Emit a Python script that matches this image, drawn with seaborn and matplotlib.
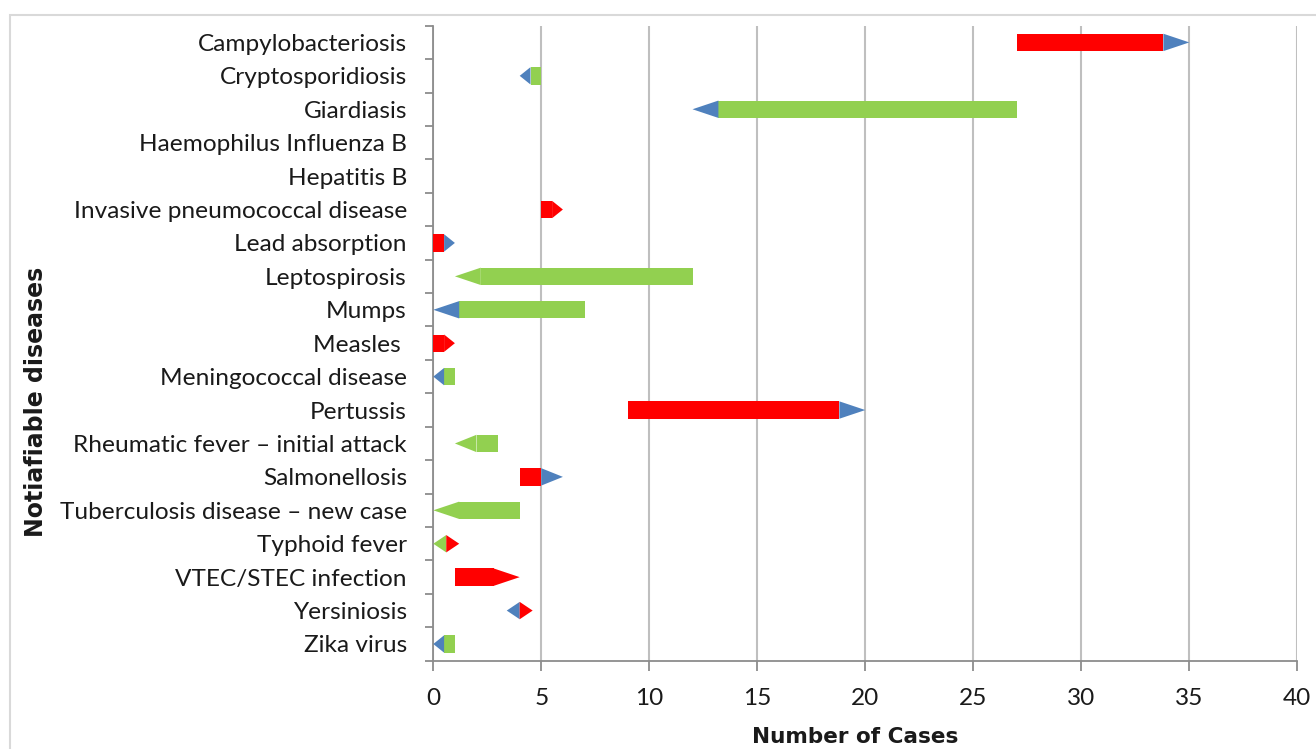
import numpy as np
import pandas as pd
import seaborn as sns
import matplotlib.pyplot as plt
from matplotlib.patches import Polygon, Rectangle

# %%
# valores (casos: anterior -> atual)
diseases = ['Campylobacteriosis', 'Cryptosporidiosis', 'Giardiasis',
            'Haemophilus Influenza B', 'Hepatitis B', 'Invasive pneumococcal disease',
            'Lead absorption', 'Leptospirosis', 'Mumps', 'Measles ',
            'Meningococcal disease', 'Pertussis', 'Rheumatic fever \u2013 initial attack',
            'Salmonellosis', 'Tuberculosis disease \u2013 new case', 'Typhoid fever',
            'VTEC/STEC infection', 'Yersiniosis', 'Zika virus']
prev_cases = [27, 5, 27, 0, 0, 5, 0, 12, 7, 0, 1, 9, 3, 4, 4, 0.6, 1, 4, 1]
curr_cases = [35, 4, 12, 0, 0, 6, 1, 1, 0, 1, 0, 20, 1, 6, 0, 0.6, 4, 4, 0]
tip_colour = ['blue', 'blue', 'blue', None, None, 'red', 'blue', 'green', 'blue', 'red',
              'blue', 'blue', 'green', 'blue', 'green', ('green', 'red'), 'red',
              ('blue', 'red'), 'blue']
x_ticks = [0, 5, 10, 15, 20, 25, 30, 35, 40]

colours = {'red': '#FF0000', 'green': '#92D050', 'blue': '#4F81BD'}
bar_h = 0.52
tip_max = 1.2

# %%
df = pd.DataFrame({'disease': diseases, 'prev': prev_cases, 'curr': curr_cases})
df['sign'] = np.sign(df['curr'] - df['prev'])
df['tip'] = np.minimum(tip_max, (df['curr'] - df['prev']).abs() / 2)
df['body_end'] = df['curr'] - df['sign'] * df['tip']
df['width'] = df['body_end'] - df['prev']
df['body_colour'] = np.where(df['sign'] > 0, colours['red'], colours['green'])

sns.set_theme(style='white')
plt.rcParams['font.family'] = ['Lato', 'DejaVu Sans']

fig = plt.figure(figsize=(13.16, 7.49), dpi=100)
ax = fig.add_axes([433.3 / 1316, 1 - 660.7 / 749, (1297.3 - 433.3) / 1316, (660.7 - 25.7) / 749])

sns.barplot(data=df, x='width', y='disease', left=df['prev'].values, width=bar_h,
            color=colours['green'], saturation=1, orient='h', ax=ax, zorder=3)
for patch, c in zip(ax.patches, df['body_colour']):
    patch.set_facecolor(c)
    patch.set_edgecolor('none')

# pontas das setas
for i, row in df.iterrows():
    tc = tip_colour[i]
    if tc is None:
        continue
    if isinstance(tc, tuple):
        c = row['curr']
        half = 0.6
        ax.add_patch(Polygon([(c, i - bar_h / 2), (c, i + bar_h / 2), (c - half, i)],
                             closed=True, fc=colours[tc[0]], ec='none', zorder=4))
        ax.add_patch(Polygon([(c, i - bar_h / 2), (c, i + bar_h / 2), (c + half, i)],
                             closed=True, fc=colours[tc[1]], ec='none', zorder=4))
        continue
    b = row['body_end']
    ax.add_patch(Polygon([(b, i - bar_h / 2), (b, i + bar_h / 2), (row['curr'], i)],
                         closed=True, fc=colours[tc], ec='none', zorder=4))

ax.set_xlim(0, 40)
ax.set_ylim(len(diseases) - 0.5, -0.5)
ax.set_xticks(x_ticks)
ax.xaxis.grid(True, color='#BFBFBF', linewidth=1.5, zorder=0)
ax.yaxis.grid(False)
ax.set_axisbelow(True)
for s in ['top', 'right']:
    ax.spines[s].set_visible(False)
for s in ['left', 'bottom']:
    ax.spines[s].set_color('#8C8C8C')
    ax.spines[s].set_linewidth(1.3)

ax.set_yticks(np.arange(len(diseases)))
ax.set_yticklabels(diseases)
ax.set_yticks(np.arange(len(diseases) + 1) - 0.5, minor=True)
ax.tick_params(axis='y', which='major', length=0, pad=19, labelsize=17.6, labelcolor='#1A1A1A')
ax.tick_params(axis='y', which='minor', left=True, length=6, width=1.3, color='#8C8C8C')
ax.tick_params(axis='x', which='major', bottom=True, length=7, width=1.3, color='#8C8C8C',
               pad=13, labelsize=17.6, labelcolor='#1A1A1A')
ax.set_xlabel('')
ax.set_ylabel('')

fig.text(855 / 1316, 1 - 737 / 749, 'Number of Cases', ha='center', va='center',
         fontsize=15.5, fontweight='bold', family='DejaVu Sans', color='#1A1A1A')
fig.text(36 / 1316, 1 - 402 / 749, 'Notiafiable diseases', ha='center', va='center',
         rotation=90, fontsize=17, fontweight='bold', family='DejaVu Sans', color='#1A1A1A')

# moldura externa
fig.add_artist(Rectangle((10 / 1316, -0.05), 1.1, 1 - 15 / 749 + 0.05, transform=fig.transFigure,
                         fill=False, ec='#D9D9D9', lw=1.5))

fig.savefig('out.png', dpi=100)
